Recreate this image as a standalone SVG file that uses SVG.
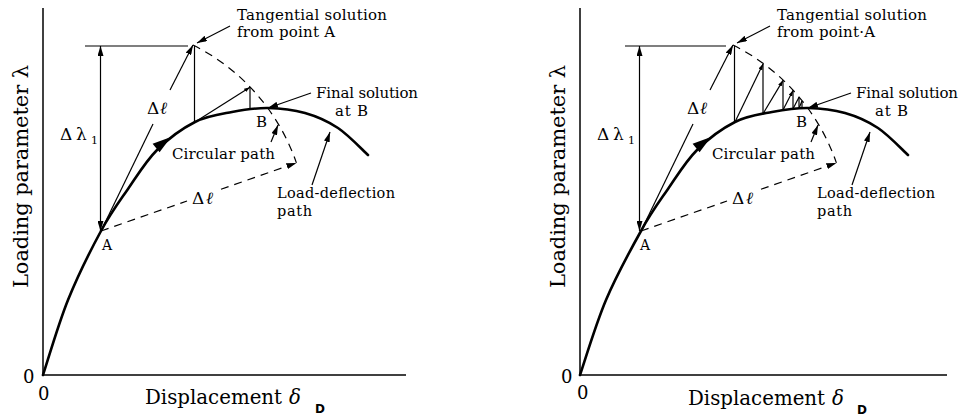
<svg xmlns="http://www.w3.org/2000/svg" width="965" height="418" viewBox="0 0 965 418">
<style>
.ax{stroke:#000;stroke-width:1.5;fill:none}
.ln{stroke:#000;stroke-width:1.2;fill:none}
.ds{stroke:#000;stroke-width:1.2;fill:none;stroke-dasharray:8 6}
.cv{stroke:#000;stroke-width:2.6;fill:none;stroke-linecap:round;stroke-linejoin:round}
.lb{font-family:"DejaVu Serif","Liberation Serif",serif;font-size:15px;fill:#000}
.lb2{font-family:"DejaVu Serif","Liberation Serif",serif;font-size:14.5px;fill:#000}
.big{font-family:"DejaVu Serif","Liberation Serif",serif;font-size:20px;fill:#000}
.sym{font-family:"DejaVu Serif","Liberation Serif",serif;font-size:17px;fill:#000}
.sub{font-family:"DejaVu Sans","Liberation Sans",sans-serif;font-size:12px;font-weight:bold;fill:#000}
.sub1{font-family:"DejaVu Serif","Liberation Serif",serif;font-size:11px;fill:#000}
</style>
<defs>
<marker id="ah" viewBox="0 0 10 6" refX="10" refY="3" markerWidth="10" markerHeight="6" markerUnits="userSpaceOnUse" orient="auto-start-reverse"><path d="M0,0 L10,3 L0,6 z" fill="#000"/></marker>
<marker id="ahs" viewBox="0 0 6 4" refX="6" refY="2" markerWidth="6" markerHeight="4" markerUnits="userSpaceOnUse" orient="auto"><path d="M0,0 L6,2 L0,4 z" fill="#000"/></marker>
</defs>
<rect width="965" height="418" fill="#fff"/>

<!-- LEFT PANEL -->
<g id="left-axes">
<line class="ax" x1="43" y1="8" x2="43" y2="375"/>
<line class="ax" x1="43" y1="375" x2="406" y2="375"/>
<text class="big" x="23" y="383" style="font-size:18px">0</text>
<text class="big" x="38" y="400" style="font-size:18px">0</text>
<text class="big" x="145" y="404" style="font-size:19.8px">Displacement <tspan x="289" font-style="italic">δ</tspan><tspan class="sub" x="315" y="413">D</tspan></text>
<text class="big" style="font-size:21px" transform="translate(28,176.5) rotate(-90)" text-anchor="middle" textLength="223">Loading parameter λ</text>
</g>
<g id="left-curve">
<path class="cv" d="M43,375 C47.2,362.5 58.3,324 68,300 C77.7,276 91,249.5 101,231 C111,212.5 118.7,202.5 128,189 C137.3,175.5 145.8,161.2 157,150 C168.2,138.8 182.5,128.3 195,122 C207.5,115.7 219.8,114.3 232,112 C244.2,109.7 255.8,107.8 268,108 C280.2,108.2 293.3,109.7 305,113 C316.7,116.3 327.5,121 338,128 C348.5,135 363,150.5 368,155"/>
<polygon points="171,137 159.6,152.2 152.6,143.8" fill="#000"/>
</g>
<g id="left-connectors">
<line class="ln" x1="85" y1="46" x2="188" y2="46"/>
<line class="ln" x1="100.5" y1="46" x2="100.5" y2="231" marker-start="url(#ah)" marker-end="url(#ah)"/>
<line class="ln" x1="101" y1="231" x2="153" y2="124"/>
<line class="ln" x1="170" y1="90" x2="193" y2="45" marker-end="url(#ah)"/>
<line class="ln" x1="194.5" y1="46" x2="194.5" y2="122"/>
<line class="ln" x1="195" y1="122" x2="250" y2="87.3" marker-end="url(#ahs)"/>
<line class="ln" x1="250" y1="87.3" x2="250" y2="109"/>
<path class="ds" d="M193,45 A207,207 0 0 1 296.4,162.9"/>
<line class="ds" x1="101" y1="231" x2="187" y2="201"/>
<line class="ds" x1="221" y1="189.2" x2="296.4" y2="162.9" marker-end="url(#ah)"/>
<line class="ln" x1="230" y1="26" x2="197" y2="43" marker-end="url(#ah)"/>
<line class="ln" x1="311" y1="93" x2="268" y2="108" marker-end="url(#ah)"/>
<line class="ln" x1="271" y1="142" x2="278" y2="125" marker-end="url(#ah)"/>
<line class="ln" x1="312" y1="185" x2="330" y2="132" marker-end="url(#ah)"/>
</g>
<g id="left-labels">
<text class="lb" x="237" y="20" textLength="150">Tangential solution</text>
<text class="lb" x="237" y="37" textLength="98">from point A</text>
<text class="lb" x="316" y="98" textLength="102">Final solution</text>
<text class="lb" x="335" y="116" textLength="33">at B</text>
<text class="lb" x="256" y="127">B</text>
<text class="lb" x="172" y="159" textLength="103">Circular path</text>
<text class="lb2" x="277" y="198" textLength="118">Load-deflection</text>
<text class="lb2" x="277" y="216" textLength="35">path</text>
<text class="lb" x="102" y="250" style="font-size:14px">A</text>
<text class="sym" x="60" y="140">Δ<tspan x="76">λ</tspan><tspan class="sub1" x="91" y="144">1</tspan></text>
<text class="sym" x="147" y="114">Δ<tspan x="160" font-style="italic">ℓ</tspan></text>
<text class="sym" x="192" y="204">Δ<tspan x="206" font-style="italic">ℓ</tspan></text>
</g>

<!-- RIGHT PANEL -->
<g id="right-axes">
<line class="ax" x1="580" y1="8" x2="580" y2="375"/>
<line class="ax" x1="580" y1="375" x2="947" y2="375"/>
<text class="big" x="561" y="383" style="font-size:18px">0</text>
<text class="big" x="577" y="399" style="font-size:18px">0</text>
<text class="big" x="688" y="405" style="font-size:19.8px">Displacement <tspan x="832" font-style="italic">δ</tspan><tspan class="sub" x="857" y="414">D</tspan></text>
<text class="big" style="font-size:21px" transform="translate(565,176.5) rotate(-90)" text-anchor="middle" textLength="223">Loading parameter λ</text>
</g>
<g transform="translate(540,0)">
<g id="right-curve">
<path class="cv" d="M40,375 C44.3,362.5 55.8,324 66,300 C76.2,276 90.7,249.5 101,231 C111,212.5 118.7,202.5 128,189 C137.3,175.5 145.8,161.2 157,150 C168.2,138.8 182.5,128.3 195,122 C207.5,115.7 219.8,114.3 232,112 C244.2,109.7 255.8,107.8 268,108 C280.2,108.2 293.3,109.7 305,113 C316.7,116.3 327.5,121 338,128 C348.5,135 363,150.5 368,155"/>
<polygon points="171,137 159.6,152.2 152.6,143.8" fill="#000"/>
</g>
<g id="right-connectors">
<line class="ln" x1="85" y1="46" x2="186" y2="46"/>
<line class="ln" x1="99.5" y1="46" x2="99.5" y2="231" marker-start="url(#ah)" marker-end="url(#ah)"/>
<line class="ln" x1="101" y1="231" x2="153" y2="124"/>
<line class="ln" x1="170" y1="90" x2="193" y2="45" marker-end="url(#ah)"/>
<line class="ln" x1="194.5" y1="46" x2="194.5" y2="122"/>
<line class="ln" x1="195" y1="122" x2="223" y2="64" marker-end="url(#ahs)"/>
<line class="ln" x1="223" y1="64" x2="223" y2="113.7"/>
<line class="ln" x1="223" y1="113.7" x2="243" y2="80.4" marker-end="url(#ahs)"/>
<line class="ln" x1="243" y1="80.4" x2="243" y2="110.1"/>
<line class="ln" x1="243" y1="110.1" x2="253" y2="90.5" marker-end="url(#ahs)"/>
<line class="ln" x1="253" y1="90.5" x2="253" y2="108.8"/>
<line class="ln" x1="253" y1="108.8" x2="259" y2="97.3"/>
<line class="ln" x1="259" y1="97.3" x2="259" y2="108.2"/>
<line class="ln" x1="259" y1="108.2" x2="262" y2="100.9"/>
<line class="ln" x1="262" y1="100.9" x2="262" y2="108"/>
<path class="ds" d="M193,45 A207,207 0 0 1 296.4,162.9"/>
<line class="ds" x1="101" y1="231" x2="187" y2="201"/>
<line class="ds" x1="221" y1="189.2" x2="296.4" y2="162.9" marker-end="url(#ah)"/>
<line class="ln" x1="230" y1="26" x2="197" y2="43" marker-end="url(#ah)"/>
<line class="ln" x1="311" y1="93" x2="268" y2="108" marker-end="url(#ah)"/>
<line class="ln" x1="271" y1="142" x2="278" y2="125" marker-end="url(#ah)"/>
<line class="ln" x1="312" y1="185" x2="330" y2="132" marker-end="url(#ah)"/>
</g>
<g id="right-labels">
<text class="lb" x="237" y="20" textLength="150">Tangential solution</text>
<text class="lb" x="237" y="37" textLength="98">from point·A</text>
<text class="lb" x="316" y="98" textLength="102">Final solution</text>
<text class="lb" x="335" y="116" textLength="33">at B</text>
<text class="lb" x="256" y="127">B</text>
<text class="lb" x="172" y="159" textLength="103">Circular path</text>
<text class="lb2" x="277" y="198" textLength="118">Load-deflection</text>
<text class="lb2" x="277" y="216" textLength="35">path</text>
<text class="lb" x="100" y="250" style="font-size:14px">A</text>
<text class="sym" x="57" y="140">Δ<tspan x="73">λ</tspan><tspan class="sub1" x="88" y="144">1</tspan></text>
<text class="sym" x="147" y="114">Δ<tspan x="160" font-style="italic">ℓ</tspan></text>
<text class="sym" x="192" y="204">Δ<tspan x="206" font-style="italic">ℓ</tspan></text>
</g>
</g>
</svg>
